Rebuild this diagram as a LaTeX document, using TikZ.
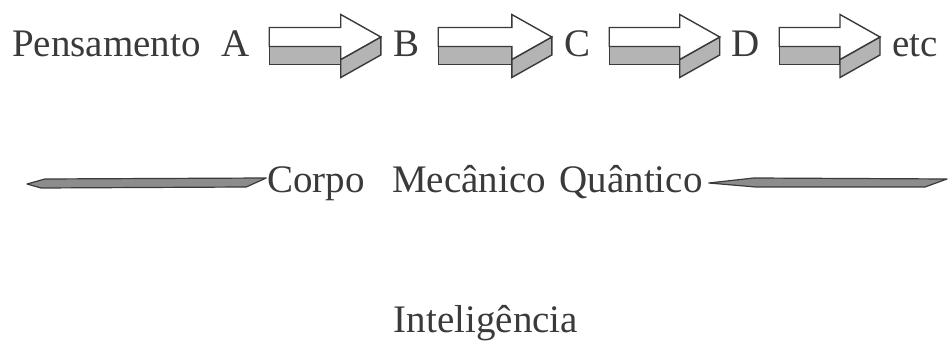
\documentclass[tikz,border=0pt]{standalone}
\usepackage{fontspec}
\setmainfont{Liberation Serif}
\usetikzlibrary{calc,positioning}
\definecolor{Ink}{HTML}{3A3A3A}
\definecolor{Shade}{HTML}{B4B4B4}
\tikzset{
  txt/.style={inner sep=0pt,text=Ink,font=\fontsize{39}{44}\selectfont},
  arrowtop/.style={draw=Ink,line width=1.4pt,fill=white,line join=miter},
  arrowside/.style={draw=Ink,line width=1.4pt,fill=Shade},
  needle/.style={draw=Ink,line width=1.2pt,fill=black!45,line join=round}
}
% 3D block arrow between two letters
\newcommand{\blockarrow}[2]{%
  \path let \p1=(#1.east), \p2=(#2.west) in
    (\x1+19pt,305pt) coordinate (#1s) (\x2-12pt,305pt) coordinate (#1t);
  \draw[arrowside] ($(#1s)+(0,-9.5)$) rectangle ($(#1t)+(-40,-27.5)$);
  \draw[arrowside] (#1t) -- ++(0,-18) -- ++(-40,-22.5) -- ++(0,18) -- cycle;
  \draw[arrowtop] ($(#1s)+(0,9.5)$) -- ($(#1t)+(-40,9.5)$) -- ++(0,13) -- (#1t)
    -- ++(-40,-22.5) -- ++(0,13) -- ($(#1s)+(0,-9.5)$) -- cycle;
}

\begin{document}
\begin{tikzpicture}[x=1pt,y=1pt]
  \useasboundingbox (0,0) rectangle (949,342);
  % thought chain
  \node[txt,anchor=base west] (pens) at (12,285) {Pensamento};
  \node[txt,anchor=base] (A) at (236,285) {A};
  \node[txt,anchor=base] (B) at (406,285) {B};
  \node[txt,anchor=base] (C) at (577,285) {C};
  \node[txt,anchor=base] (D) at (746,285) {D};
  \node[txt,anchor=base west] (etc) at (892,285) {etc};
  \blockarrow{A}{B}
  \blockarrow{B}{C}
  \blockarrow{C}{D}
  \blockarrow{D}{etc}
  % body
  \node[txt,anchor=base] (corpo) at (485,149) {Corpo\hspace{.45em} Mecânico\hspace{.1em} Quântico};
  \coordinate (lend) at (27,158);
  \coordinate (rend) at (947,163);
  \draw[needle] (lend) -- ++(18,5) -- ($(corpo.base west)+(-1,15)$) -- ++(-20,-9)
    -- ($(lend)+(14,-4)$) -- cycle;
  \draw[needle] ($(corpo.base east)+(6,10)$) -- ++(45,5) -- (rend) -- ++(-22,-8)
    -- ($(corpo.base east)+(53,6)$) -- cycle;
  % intelligence
  \node[txt,anchor=base] (intel) at (486,9) {Inteligência};
\end{tikzpicture}
\end{document}
